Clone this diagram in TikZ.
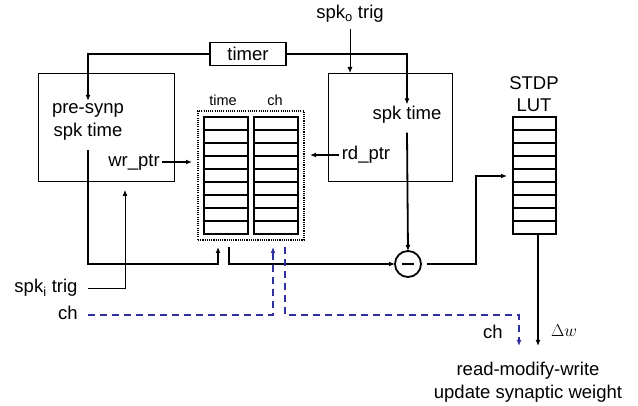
\documentclass[tikz,border=0pt]{standalone}
\usepackage{fontspec}
\setmainfont{Liberation Sans}
\usetikzlibrary{arrows.meta,calc}
\definecolor{chblue}{RGB}{48,48,160}
\begin{document}
\begin{tikzpicture}[x=1pt,y=-1pt,
  every node/.style={inner sep=0pt,outer sep=0pt},
  lbl/.style={font=\fontsize{18.5}{22.5}\selectfont,align=center},
  small/.style={font=\fontsize{14.5}{17}\selectfont},
  thinbox/.style={draw,line width=0.9pt},
  col/.style={draw,line width=2.2pt,minimum width=44,minimum height=117},
  rowline/.style={line width=1.5pt},
  bus/.style={line width=1.8pt},
  sig/.style={line width=0.9pt},
  tip/.style={-{Latex[length=6pt,width=5pt]}},
  chline/.style={chblue,line width=1.8pt,dash pattern=on 7pt off 5pt},
]
\useasboundingbox (0,0) rectangle (638,406);

% blocks
\node[draw,line width=1.8pt,minimum width=76,minimum height=23,lbl] (timer) at (248,54) {timer};
\node[thinbox,minimum width=136,minimum height=108] (pre) at (106,127) {};
\node[thinbox,minimum width=124,minimum height=108] (post) at (390,127) {};
\node[lbl] (pretxt) at (88,122) {pre-synp\\spk time};
\node[lbl] (posttxt) at (407,115) {spk time};
\node[lbl] (wr) at (134,162) {wr\_ptr};
\node[lbl] (rd) at (366,155) {rd\_ptr};
\node[lbl] (spko) at (350,14) {spk\textsubscript{o} trig};
\node[lbl] (spki) at (46,288) {spk\textsubscript{i} trig};
\node[lbl] (chin) at (68,313) {ch};

% spike memory: time and channel columns
\node[draw,line width=2pt,dash pattern=on 1.1pt off 1.1pt,minimum width=106,minimum height=129] (mem) at (251,175.5) {};
\node[col] (tcol) at (226,175.5) {};
\node[col] (ccol) at (276,175.5) {};
\node[small] (tlab) at (223,100) {time};
\node[small] (clab) at (275,100) {ch};
\foreach \k in {1,...,8}{
  \draw[rowline] ($(tcol.north west)+(0,13*\k)$) -- ($(tcol.north east)+(0,13*\k)$);
  \draw[rowline] ($(ccol.north west)+(0,13*\k)$) -- ($(ccol.north east)+(0,13*\k)$);
}

% STDP lookup table
\node[draw,line width=2.2pt,minimum width=43,minimum height=117] (lut) at (534.5,175.5) {};
\node[lbl] (luttxt) at (534,94) {STDP\\LUT};
\foreach \k in {1,...,8}
  \draw[rowline] ($(lut.north west)+(0,13*\k)$) -- ($(lut.north east)+(0,13*\k)$);

% subtractor
\node[draw,circle,line width=1.8pt,minimum size=26] (sub) at (408,264) {};
\draw[line width=1.8pt] ($(sub.center)+(-6,0)$) -- ($(sub.center)+(6,0)$);

% output labels
\node[lbl] (chout) at (493,332) {ch};
\node[font=\fontsize{18.5}{22}\selectfont] (dw) at (564,331) {$\Delta w$};
\node[lbl] (rmw) at (528,382) {read-modify-write\\update synaptic weight};

% timer distribution
\draw[bus,tip] (timer.west) -| ([yshift=3pt]pretxt.north);
\draw[bus,tip] (timer.east) -| ([yshift=2pt]posttxt.north);
\draw[sig,tip] ([yshift=-6pt]spko.south) -- (spko.south |- post.north);

% write path into memory
\draw[bus,tip] (wr.east) ++(2,0) -- ([xshift=-6pt]mem.west |- wr.east);
\draw[bus,tip] ([xshift=-3pt]rd.west) -- ([xshift=6pt]mem.east |- rd.west);
\draw[bus,tip] (pretxt.south |- 0,150) |- ($(mem.south west)+(20,24)$) -- ($(mem.south west)+(20,7)$);
\draw[sig,tip] ([xshift=10pt]spki.east) -| ([yshift=-9pt]pre.south -| 125,0);

% read path to subtractor and LUT
\draw[bus,tip] ($(mem.south west)+(31,7)$) |- (sub.west);
\draw[bus,tip] ([yshift=-9pt]posttxt.south) -- (sub.north);
\draw[bus,tip] (sub.east) ++(6,0) -| (476,176) -- ([xshift=-6pt]lut.west |- 0,176);
\draw[bus,tip] (lut.south -| 538,0) -- (538,346);

% channel id path
\draw[chline,tip] ([xshift=10pt]chin.east |- 0,315) -| ($(mem.south west)+(75,7)$);
\draw[chline,tip] ($(mem.south west)+(87,7)$) |- (519,315) -- (519,346);
\end{tikzpicture}
\end{document}
